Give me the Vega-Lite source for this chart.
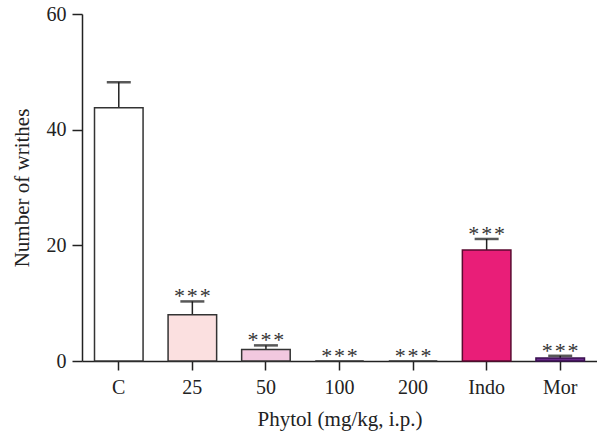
{
  "$schema": "https://vega.github.io/schema/vega-lite/v6.json",
  "width": 515,
  "height": 347,
  "autosize": {"type": "none"},
  "padding": {"left": 82, "top": 14, "right": 0, "bottom": 76},
  "background": "white",
  "config": {
    "view": {"stroke": null},
    "font": "Liberation Serif",
    "axis": {
      "labelFont": "Liberation Serif",
      "titleFont": "Liberation Serif",
      "labelColor": "#222",
      "titleColor": "#222",
      "domainColor": "#222",
      "tickColor": "#222",
      "domainWidth": 1.5,
      "tickWidth": 1.5,
      "grid": false,
      "labelFontSize": 20,
      "titleFontSize": 21,
      "titleFontWeight": "normal"
    }
  },
  "data": {
    "values": [
      {"group": "C", "mean": 43.8, "upper": 48.2, "sig": ""},
      {"group": "25", "mean": 8.0, "upper": 10.3, "sig": "*\u200a*\u200a*"},
      {"group": "50", "mean": 2.0, "upper": 2.7, "sig": "*\u200a*\u200a*"},
      {"group": "100", "mean": 0, "upper": 0, "sig": "*\u200a*\u200a*"},
      {"group": "200", "mean": 0, "upper": 0, "sig": "*\u200a*\u200a*"},
      {"group": "Indo", "mean": 19.2, "upper": 21.1, "sig": "*\u200a*\u200a*"},
      {"group": "Mor", "mean": 0.5, "upper": 0.9, "sig": "*\u200a*\u200a*"}
    ]
  },
  "encoding": {
    "x": {
      "field": "group",
      "type": "nominal",
      "sort": ["C", "25", "50", "100", "200", "Indo", "Mor"],
      "scale": {"paddingInner": 0.34, "paddingOuter": 0.17},
      "axis": {
        "title": "Phytol (mg/kg, i.p.)",
        "labelAngle": 0,
        "tickSize": 9,
        "labelPadding": 7,
        "titlePadding": 11
      }
    }
  },
  "layer": [
    {
      "transform": [{"filter": "datum.upper > datum.mean"}],
      "mark": {"type": "rule", "color": "#222", "strokeWidth": 1.5},
      "encoding": {
        "y": {"field": "mean", "type": "quantitative"},
        "y2": {"field": "upper"}
      }
    },
    {
      "transform": [{"filter": "datum.upper > datum.mean"}],
      "mark": {"type": "tick", "color": "#111", "thickness": 2.5, "size": 24, "orient": "horizontal"},
      "encoding": {
        "y": {"field": "upper", "type": "quantitative"}
      }
    },
    {
      "mark": {"type": "bar", "strokeWidth": 1.5},
      "encoding": {
        "y": {
          "field": "mean",
          "type": "quantitative",
          "scale": {"domain": [0, 60], "nice": false},
          "axis": {
            "title": "Number of writhes",
            "values": [0, 20, 40, 60],
            "tickSize": 10,
            "labelPadding": 6,
            "titlePadding": 14
          }
        },
        "fill": {
          "field": "group",
          "type": "nominal",
          "scale": {
            "domain": ["C", "25", "50", "100", "200", "Indo", "Mor"],
            "range": ["#ffffff", "#fbe0e0", "#f2c8df", "#ffffff", "#ffffff", "#e91e78", "#6b2a8c"]
          },
          "legend": null
        },
        "stroke": {
          "field": "group",
          "type": "nominal",
          "scale": {
            "domain": ["C", "25", "50", "100", "200", "Indo", "Mor"],
            "range": ["#333333", "#333333", "#333333", "#333333", "#333333", "#5a0a30", "#3a1050"]
          },
          "legend": null
        }
      }
    },
    {
      "mark": {"type": "text", "fontSize": 22, "baseline": "alphabetic", "dy": 2, "color": "#333"},
      "encoding": {
        "y": {"field": "upper", "type": "quantitative"},
        "text": {"field": "sig"}
      }
    }
  ]
}
